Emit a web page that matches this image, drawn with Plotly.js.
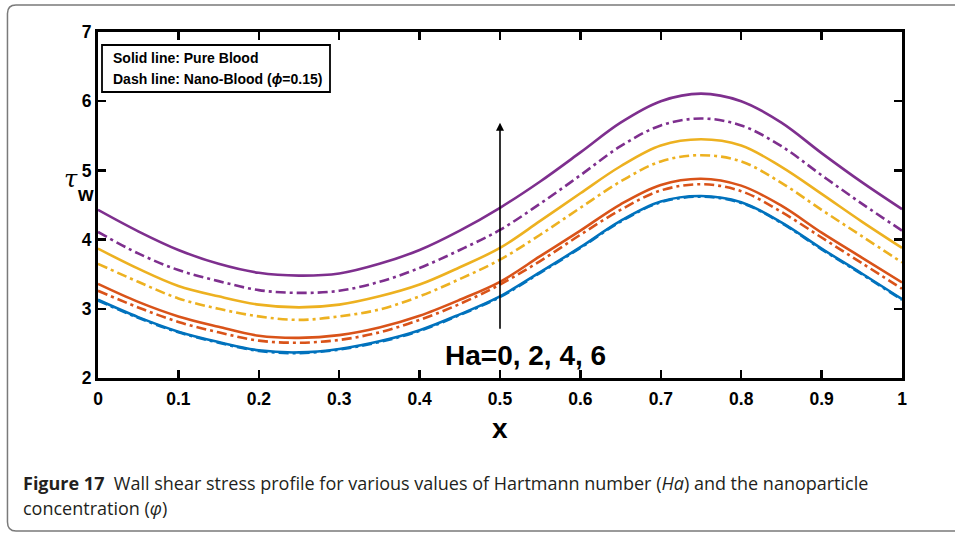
<!DOCTYPE html>
<html>
<head>
<meta charset="utf-8">
<script src="https://cdn.plot.ly/plotly-3.0.1.min.js"></script>
<style>html,body{margin:0;padding:0;background:#fff;}#chart{width:955px;height:533px;}</style>
</head>
<body>
<div id="chart"></div>
<script>
// ---- data ----
const xVals = [0, 0.05, 0.1, 0.15, 0.2, 0.25, 0.3, 0.35, 0.4, 0.45, 0.5, 0.55, 0.6, 0.65, 0.7, 0.75, 0.8, 0.85, 0.9, 0.95, 1];
const xTicks = [0, 0.1, 0.2, 0.3, 0.4, 0.5, 0.6, 0.7, 0.8, 0.9, 1];
const xTickText = ['0','0.1','0.2','0.3','0.4','0.5','0.6','0.7','0.8','0.9','1'];
const yTicks = [2, 3, 4, 5, 6, 7];
const haValues = [0, 2, 4, 6];
// Pure blood (solid)
const pureHa0 = [3.13, 2.88, 2.67, 2.52, 2.40, 2.37, 2.42, 2.53, 2.69, 2.92, 3.18, 3.53, 3.89, 4.27, 4.55, 4.63, 4.54, 4.25, 3.87, 3.51, 3.14];
const pureHa2 = [3.36, 3.10, 2.89, 2.74, 2.61, 2.58, 2.62, 2.73, 2.90, 3.13, 3.39, 3.76, 4.13, 4.51, 4.79, 4.88, 4.78, 4.49, 4.10, 3.74, 3.38];
const pureHa4 = [3.87, 3.58, 3.33, 3.18, 3.06, 3.02, 3.06, 3.18, 3.35, 3.60, 3.88, 4.27, 4.67, 5.06, 5.36, 5.45, 5.36, 5.05, 4.66, 4.26, 3.88];
const pureHa6 = [4.43, 4.12, 3.85, 3.65, 3.52, 3.48, 3.51, 3.65, 3.85, 4.13, 4.46, 4.84, 5.26, 5.69, 6.00, 6.11, 6.00, 5.69, 5.25, 4.83, 4.44];
// Nano-blood phi = 0.15 (dash)
const nanoHa0 = [3.12, 2.87, 2.66, 2.51, 2.39, 2.36, 2.41, 2.52, 2.68, 2.91, 3.17, 3.52, 3.88, 4.26, 4.54, 4.62, 4.53, 4.24, 3.86, 3.50, 3.13];
const nanoHa2 = [3.26, 3.02, 2.81, 2.66, 2.54, 2.51, 2.55, 2.66, 2.84, 3.07, 3.35, 3.69, 4.07, 4.43, 4.71, 4.80, 4.70, 4.40, 4.03, 3.66, 3.29];
const nanoHa4 = [3.65, 3.39, 3.15, 3.00, 2.89, 2.84, 2.89, 2.99, 3.18, 3.43, 3.71, 4.07, 4.46, 4.84, 5.13, 5.22, 5.13, 4.82, 4.43, 4.05, 3.67];
const nanoHa6 = [4.11, 3.80, 3.56, 3.40, 3.27, 3.23, 3.26, 3.39, 3.59, 3.85, 4.14, 4.52, 4.93, 5.35, 5.65, 5.75, 5.65, 5.35, 4.93, 4.52, 4.13];
const arrowFrom = 2.69, arrowTo = 5.69, arrowX = 0.5;

const colors = ['#0072BD', '#D95319', '#EDB120', '#7E2F8E'];
const pure = [pureHa0, pureHa2, pureHa4, pureHa6];
const nano = [nanoHa0, nanoHa2, nanoHa4, nanoHa6];

const traces = [];
for (let i = 0; i < haValues.length; i++) {
  traces.push({x: xVals, y: pure[i], type: 'scatter', mode: 'lines', name: 'Pure Ha=' + haValues[i],
    line: {color: colors[i], width: 2.6, shape: 'spline', smoothing: 1}, hoverinfo: 'skip'});
}
for (let i = 0; i < haValues.length; i++) {
  traces.push({x: xVals, y: nano[i], type: 'scatter', mode: 'lines', name: 'Nano Ha=' + haValues[i],
    line: {color: colors[i], width: 2.6, shape: 'spline', smoothing: 1, dash: '10px,4px,3px,4px'}, hoverinfo: 'skip'});
}

// plot area geometry (pixels)
const W = 955, H = 533, L = 98, R = 53, T = 32, B = 155;
const pw = W - L - R, ph = H - T - B;
const xp = px => (px - L) / pw;
const yp = py => (H - B - py) / ph;
const P = (px, py) => xp(px).toFixed(4) + ',' + yp(py).toFixed(4);
const framePath = 'M ' + P(962, 5) + ' L ' + P(16, 5) + ' Q ' + P(7.5, 5) + ' ' + P(7.5, 13.5) +
  ' L ' + P(7.5, 522) + ' Q ' + P(7.5, 531) + ' ' + P(16, 531) + ' L ' + P(962, 531);

const AR = 'Liberation Sans, Arial, sans-serif';

const layout = {
  width: W, height: H,
  margin: {l: L, r: R, t: T, b: B},
  paper_bgcolor: '#fff', plot_bgcolor: '#fff',
  font: {family: AR, size: 17.5, color: '#000'},
  showlegend: false,
  xaxis: {
    range: [0, 1], tickmode: 'array', tickvals: xTicks, ticktext: xTickText.map(t => '<b>' + t + '</b>'),
    ticks: 'inside', ticklen: 8, tickwidth: 2.5, tickcolor: '#000', ticklabelstandoff: 3,
    showline: true, linewidth: 3, linecolor: '#000', mirror: 'ticks',
    showgrid: false, zeroline: false, tickfont: {family: AR, size: 17.5, color: '#000'}
  },
  yaxis: {
    range: [2, 7], tickmode: 'array', tickvals: yTicks, ticktext: yTicks.map(t => '<b>' + t + '</b>'),
    ticks: 'inside', ticklen: 8, tickwidth: 2.5, tickcolor: '#000',
    showline: true, linewidth: 3, linecolor: '#000', mirror: 'ticks',
    showgrid: false, zeroline: false, tickfont: {family: AR, size: 17.5, color: '#000'}
  },
  shapes: [
    {type: 'path', xref: 'paper', yref: 'paper', path: framePath, line: {color: '#7a7a7a', width: 1.5}},
    {type: 'rect', xref: 'paper', yref: 'paper', x0: xp(102), x1: xp(330), y0: yp(45), y1: yp(92),
      line: {color: '#000', width: 1.8}, fillcolor: '#fff', layer: 'above'}
  ],
  annotations: [
    {xref: 'paper', yref: 'paper', x: xp(111), y: yp(58), xanchor: 'left', yanchor: 'middle', showarrow: false,
      align: 'left', text: '<b>Solid line: Pure Blood</b>',
      font: {family: AR, size: 14, color: '#000'}},
    {xref: 'paper', yref: 'paper', x: xp(111), y: yp(79), xanchor: 'left', yanchor: 'middle', showarrow: false,
      align: 'left', text: '<b>Dash line: Nano-Blood (<i>ϕ</i>=0.15)</b>',
      font: {family: AR, size: 14, color: '#000'}},
    {x: arrowX, y: arrowTo, ax: arrowX, ay: arrowFrom, xref: 'x', yref: 'y', axref: 'x', ayref: 'y',
      text: '', showarrow: true, arrowhead: 2, arrowsize: 1, arrowwidth: 1.6, arrowcolor: '#000'},
    {xref: 'paper', yref: 'paper', x: xp(525), y: yp(355), xanchor: 'center', yanchor: 'middle', showarrow: false,
      text: '<b>Ha=' + haValues.join(', ') + '</b>',
      font: {family: AR, size: 28, color: '#000'}},
    {xref: 'paper', yref: 'paper', x: xp(500), y: yp(428), xanchor: 'center', yanchor: 'middle', showarrow: false, text: '<b>x</b>',
      font: {family: AR, size: 28, color: '#000'}},
    {xref: 'paper', yref: 'paper', x: xp(71), y: yp(179), xanchor: 'center', yanchor: 'middle', showarrow: false, text: '<i>τ</i>',
      font: {family: 'DejaVu Serif, serif', size: 24, color: '#000'}},
    {xref: 'paper', yref: 'paper', x: xp(85), y: yp(194), xanchor: 'center', yanchor: 'middle', showarrow: false, text: '<b>w</b>',
      font: {family: AR, size: 20, color: '#000'}},
    {xref: 'paper', yref: 'paper', x: xp(21), y: yp(483), xanchor: 'left', yanchor: 'middle', showarrow: false, align: 'left',
      text: '<b>Figure 17</b>  Wall shear stress profile for various values of Hartmann number (<i>Ha</i>) and the nanoparticle',
      font: {family: 'Open Sans, sans-serif', size: 18, color: '#231f20'}},
    {xref: 'paper', yref: 'paper', x: xp(21), y: yp(508), xanchor: 'left', yanchor: 'middle', showarrow: false, align: 'left',
      text: 'concentration (<i>φ</i>)',
      font: {family: 'Open Sans, sans-serif', size: 18, color: '#231f20'}}
  ]
};

Plotly.newPlot('chart', traces, layout, {staticPlot: true, displayModeBar: false});
</script>
</body>
</html>
